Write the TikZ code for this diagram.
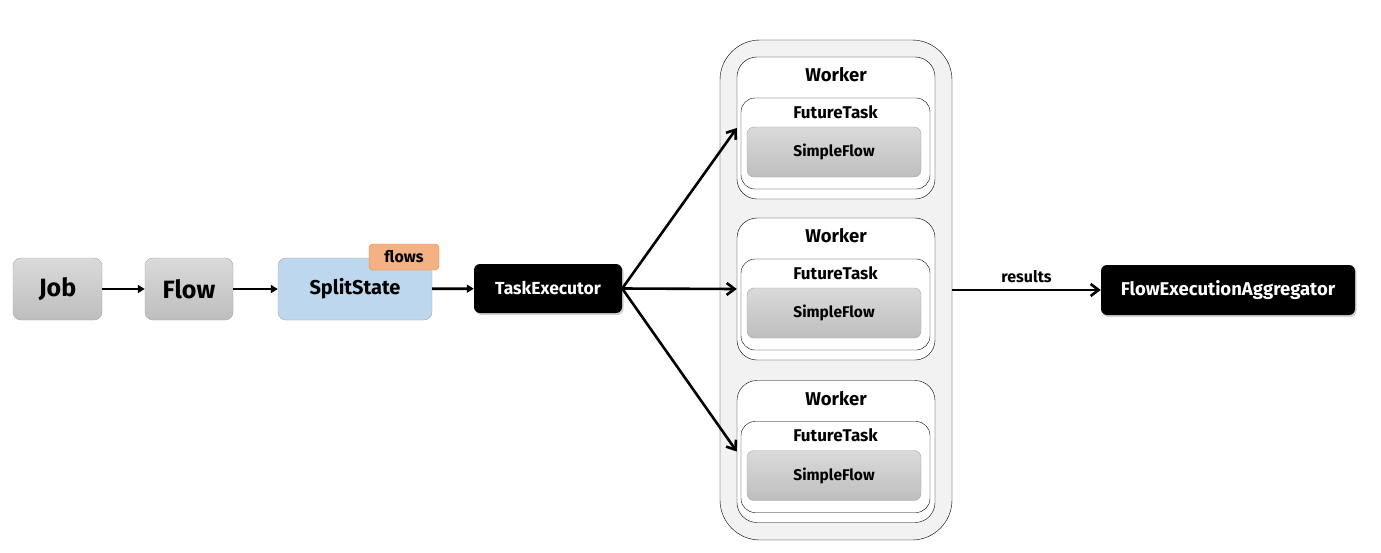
\documentclass[tikz,border=0pt]{standalone}
\usepackage{fontspec}
\setmainfont{Fira Sans}
\usetikzlibrary{positioning,shadows,arrows.meta}
\definecolor{boxtop}{HTML}{DADADA}
\definecolor{boxbot}{HTML}{BEBEBE}
\definecolor{boxline}{HTML}{A6A6A6}
\definecolor{splitblue}{HTML}{BDD7EE}
\definecolor{tagfill}{HTML}{F4B183}
\definecolor{tagline}{HTML}{ED7D31}
\definecolor{poolfill}{HTML}{F2F2F2}

\begin{document}
\begin{tikzpicture}[
    x=1pt, y=-1pt,
    graybox/.style={
        draw=boxline, rounded corners=8pt,
        top color=boxtop, bottom color=boxbot,
        font=\bfseries\fontsize{25}{27}\selectfont
    },
    darkbox/.style={
        fill=black, text=white, rounded corners=6pt,
        drop shadow={shadow xshift=1.5pt, shadow yshift=-2pt, opacity=0.35},
        font=\bfseries\fontsize{17.5}{19}\selectfont
    },
    workerbox/.style={draw, fill=white, rounded corners=20pt,
        minimum width=198pt, minimum height=142pt},
    taskbox/.style={draw, fill=white, rounded corners=14pt,
        minimum width=189pt, minimum height=91pt},
    simplebox/.style={draw=boxline, rounded corners=7pt,
        top color=boxtop, bottom color=boxbot,
        minimum width=174pt, minimum height=50pt,
        font=\bfseries\fontsize{15.5}{17}\selectfont},
    flowline/.style={line width=2.8pt, -{Triangle[length=7pt,width=8pt]}},
    fanline/.style={line width=2.6pt, -{Straight Barb[length=8pt,width=12pt]}}
]
\useasboundingbox (0,0) rectangle (1381,552);

\node[graybox, minimum width=89pt, minimum height=62pt] (job) at (57.5,289) {Job};
\node[graybox, minimum width=88pt, minimum height=62pt] (flow) at (189,289) {Flow};
\node[draw=boxline, fill=splitblue, rounded corners=8pt,
      minimum width=154pt, minimum height=62pt,
      font=\bfseries\fontsize{20}{22}\selectfont] (split) at (355,289) {SplitState};
\node[draw=tagline, fill=tagfill, rounded corners=4pt,
      minimum width=70pt, minimum height=26pt,
      font=\bfseries\fontsize{16}{18}\selectfont] (tag) at (404,257) {flows};
\node[darkbox, minimum width=148pt, minimum height=49pt] (exec) at (548,288.5) {TaskExecutor};

\node[draw, fill=poolfill, rounded corners=40pt,
      minimum width=232pt, minimum height=500pt] (pool) at (836,290) {};

\foreach \i/\y in {1/128,2/289,3/451.5}{
  \node[workerbox] (w\i) at (836,\y) {};
  \node[font=\bfseries\fontsize{18.5}{20}\selectfont] at ([yshift=-18pt]w\i.north) {Worker};
  \node[taskbox] (t\i) at (835.5,\y+15.5) {};
  \node[font=\bfseries\fontsize{17}{19}\selectfont] at ([yshift=-14pt]t\i.north) {FutureTask};
  \node[simplebox] (s\i) at (834,\y+24) {SimpleFlow};
  \draw[fanline] (exec.east) -- (w\i.west);
}

\node[darkbox, minimum width=254pt, minimum height=50pt,
      font=\bfseries\fontsize{18.5}{20}\selectfont] (agg) at (1228,290) {FlowExecutionAggregator};

\draw[flowline] (job) -- (flow);
\draw[flowline] (flow) -- (split);
\draw[flowline] (split) -- (exec);
\draw[fanline] (pool.east |- agg.west) -- (agg.west)
  node[midway, above=3pt, font=\bfseries\fontsize{16}{18}\selectfont] {results};
\end{tikzpicture}
\end{document}
